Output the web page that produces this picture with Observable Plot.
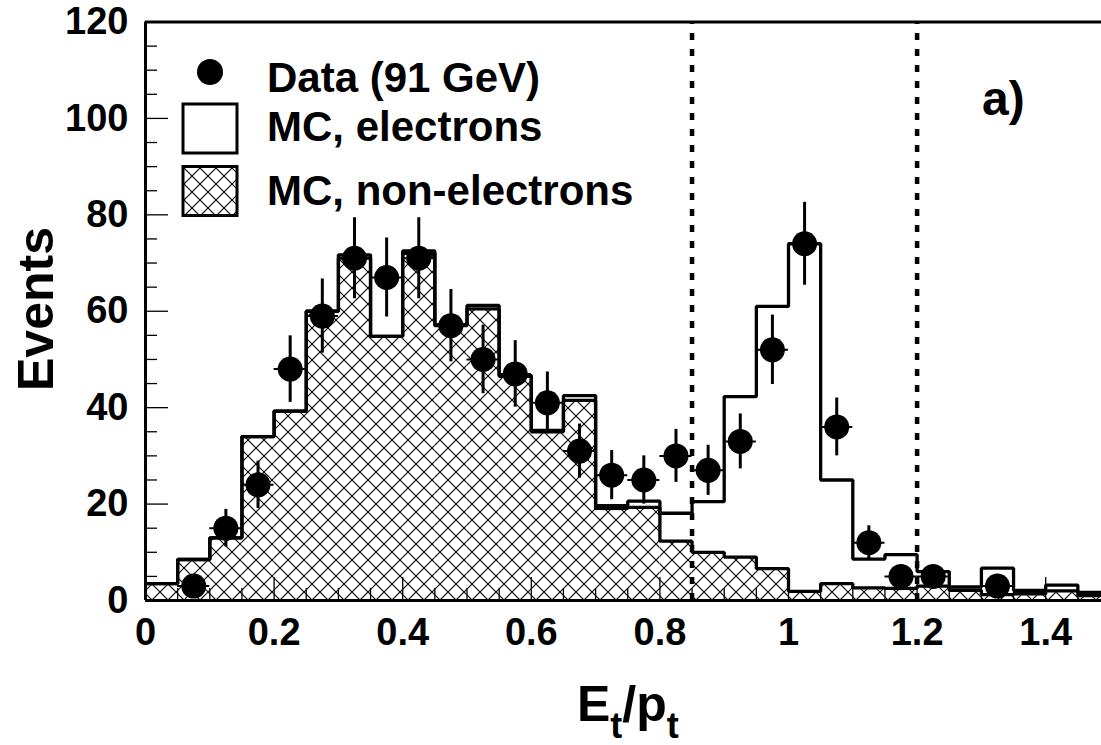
<!DOCTYPE html>
<html><head><meta charset="utf-8">
<script src="https://cdn.jsdelivr.net/npm/d3@7"></script>
<script src="https://cdn.jsdelivr.net/npm/@observablehq/plot@0.6"></script>
<style>
html,body{margin:0;padding:0;background:#fff;}
#chart{position:relative;width:1101px;height:745px;overflow:hidden;}
#chart svg{font-family:"Liberation Sans",Arial,sans-serif;font-weight:bold;}
</style></head><body><div id="chart"></div>
<script>
// ---- data ----
const binLo = [0,0.05,0.1,0.15,0.2,0.25,0.3,0.35,0.4,0.45,0.5,0.55,0.6,0.65,0.7,0.75,0.8,0.85,0.9,0.95,1.0,1.05,1.1,1.15,1.2,1.25,1.3,1.35,1.4,1.45];
const binWidth = 0.05;
const mcTotal = [3.5,8.5,13,34,39.3,60,71.7,54.8,72.5,57.2,61.2,46.7,35.3,42.5,19.7,20.6,18.1,20.5,42.3,61,74,25,8.6,9.5,6,2.8,6.7,2.1,3.2,1.7];
const mcNonElectrons = [3.5,8.5,13,34,39.3,60,71,54.8,72,57,60.5,46.5,35,41.5,19.1,19.3,12.3,10,9,6.6,1.9,3.5,2.6,2.5,3,2.1,1.2,1.4,2,1];
const dataX = [0.075,0.125,0.175,0.225,0.275,0.325,0.375,0.425,0.475,0.525,0.575,0.625,0.675,0.725,0.775,0.825,0.875,0.925,0.975,1.025,1.075,1.125,1.175,1.225,1.325];
const dataY = [3,15,24,48,59,71,67,71,57,50,47,41,31,26,25,30,27,33,52,74,36,12,5,5,3];
const dataErr = [1.7,3.9,4.9,6.9,7.7,8.4,8.2,8.4,7.5,7.1,6.9,6.4,5.6,5.1,5.0,5.5,5.2,5.7,7.2,8.6,6.0,3.5,2.2,2.2,1.7];
const cutLines = [0.85, 1.2];
const xTickLabels = [0,0.2,0.4,0.6,0.8,1,1.2,1.4];
const xMinorTicks = [0.05,0.1,0.15,0.25,0.3,0.35,0.45,0.5,0.55,0.65,0.7,0.75,0.85,0.9,0.95,1.05,1.1,1.15,1.25,1.3,1.35,1.45];
const yTickLabels = [0,20,40,60,80,100,120];
const yMinorTicks = [5,10,15,25,30,35,45,50,55,65,70,75,85,90,95,105,110,115];
const legendLabels = ["Data (91 GeV)","MC, electrons","MC, non-electrons"];

// ---- tables ----
const bins = binLo.map((lo,i)=>({lo, hi: lo+binWidth, total: mcTotal[i], nonE: mcNonElectrons[i]}));
const steps = key => bins.flatMap(b=>[{x:b.lo,y:b[key]},{x:b.hi,y:b[key]}]);
const data = dataX.map((x,i)=>({x, y:dataY[i], e:dataErr[i]}));

const W=1101, H=745;
const xMajLen = 0.0358, xMinLen = 0.0187; // tick lengths in x units (for y ticks)
const yMajLen = 4.77, yMinLen = 2.5;      // tick lengths in y units (for x ticks)

const plot = Plot.plot({
  width: W, height: H,
  marginLeft: 145, marginRight: -8.5, marginTop: 21.5, marginBottom: 145,
  x: {domain: [0, 1.5]},
  y: {domain: [0, 120]},
  style: {fontFamily: '"Liberation Sans", Arial, sans-serif', background: "#fff", overflow: "hidden"},
  marks: [
    Plot.rectY(bins, {x1:"lo", x2:"hi", y:"nonE", fill:"url(#hatch)", clip:true}),
    Plot.line(steps("nonE"), {x:"x", y:"y", stroke:"#000", strokeWidth:3.3, strokeLinejoin:"miter", clip:true}),
    Plot.line(steps("total"), {x:"x", y:"y", stroke:"#000", strokeWidth:3.3, strokeLinejoin:"miter", clip:true}),
    Plot.ruleX(cutLines, {y1:0, y2:120, stroke:"#000", strokeWidth:4.5, strokeDasharray:"7,9"}),
    // frame (left, top, bottom)
    Plot.ruleY([0,120], {stroke:"#000", strokeWidth:3}),
    Plot.ruleX([0], {y1:0, y2:120, stroke:"#000", strokeWidth:3}),
    // inside ticks
    Plot.ruleX(xTickLabels, {y1:0, y2:yMajLen, stroke:"#000", strokeWidth:1.3}),
    Plot.ruleX(xMinorTicks, {y1:0, y2:yMinLen, stroke:"#000", strokeWidth:1.3}),
    Plot.ruleY(yTickLabels, {x1:0, x2:xMajLen, stroke:"#000", strokeWidth:1.3}),
    Plot.ruleY(yMinorTicks, {x1:0, x2:xMinLen, stroke:"#000", strokeWidth:1.3}),
    // data
    Plot.ruleX(data, {x:"x", y1:d=>d.y-d.e, y2:d=>d.y+d.e, stroke:"#000", strokeWidth:3}),
    Plot.ruleY(data, {y:"y", x1:d=>d.x-binWidth/2, x2:d=>d.x+binWidth/2, stroke:"#000", strokeWidth:2}),
    Plot.dot(data, {x:"x", y:"y", r:12.5, fill:"#000", stroke:"none"}),
    // axes labels
    Plot.axisX({ticks: xTickLabels, tickSize:0, tickPadding:18, fontSize:38, fontWeight:"bold", label:null, tickFormat: d3.format("")}),
    Plot.axisY({ticks: yTickLabels, tickSize:0, tickPadding:17, fontSize:38, fontWeight:"bold", label:null})
  ]
});

const svg = d3.select(plot);
const defs = svg.insert("defs", ":first-child");
const P = 16;
const pat = defs.append("pattern").attr("id","hatch").attr("patternUnits","userSpaceOnUse")
  .attr("width",P).attr("height",P);
pat.append("rect").attr("width",P).attr("height",P).attr("fill","#fff");
pat.append("path").attr("d",`M0,0L${P},${P}M${P},0L0,${P}M-1,${P-1}L1,${P+1}M${P-1},-1L${P+1},1M-1,1L1,-1M${P-1},${P+1}L${P+1},${P-1}`)
  .attr("stroke","#000").attr("stroke-width",1.1).attr("fill","none");

// axis titles
svg.append("text").attr("transform","translate(53,309) rotate(-90)")
  .attr("text-anchor","middle").attr("font-size",50).attr("font-weight","bold").attr("fill","#000").text("Events");
const xt = svg.append("text").attr("x",577).attr("y",721).attr("text-anchor","start").attr("font-size",50).attr("font-weight","bold").attr("fill","#000");
xt.append("tspan").text("E");
xt.append("tspan").attr("font-size",36).attr("dy",17).text("t");
xt.append("tspan").attr("dy",-17).text("/p");
xt.append("tspan").attr("font-size",36).attr("dy",17).text("t");

// legend
const lg = svg.append("g").attr("font-size",42).attr("font-weight","bold").attr("fill","#000").attr("text-anchor","start");
lg.append("circle").attr("cx",210).attr("cy",72).attr("r",13).attr("fill","#000");
lg.append("rect").attr("x",183).attr("y",104).attr("width",54).attr("height",49).attr("fill","#fff").attr("stroke","#000").attr("stroke-width",3);
lg.append("rect").attr("x",183).attr("y",166.5).attr("width",54).attr("height",49).attr("fill","url(#hatch)").attr("stroke","#000").attr("stroke-width",3);
[91.5,141,205].forEach((y,i)=>lg.append("text").attr("x",267).attr("y",y).text(legendLabels[i]));

svg.append("text").attr("x",982).attr("y",115).attr("text-anchor","start").attr("font-size",48).attr("font-weight","bold").attr("fill","#000").text("a)");

document.getElementById("chart").appendChild(plot);
</script></body></html>
